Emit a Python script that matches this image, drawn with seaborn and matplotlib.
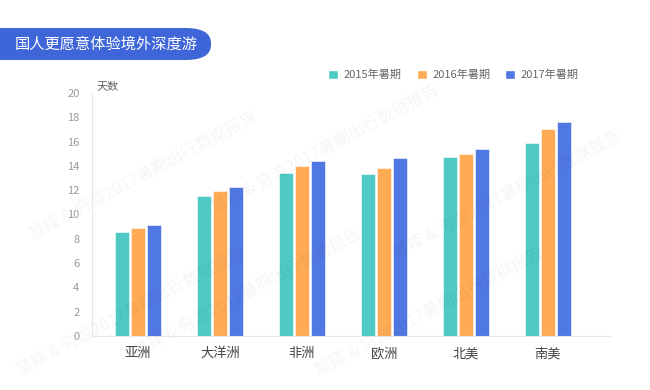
import pandas as pd
import matplotlib.pyplot as plt
import seaborn as sns
from matplotlib.patches import FancyBboxPatch, Patch

regions = ["亚洲", "大洋洲", "非洲", "欧洲", "北美", "南美"]
y2015 = [8.6, 11.5, 13.45, 13.3, 14.7, 15.9]
y2016 = [8.9, 11.95, 14.0, 13.85, 15.0, 17.0]
y2017 = [9.1, 12.3, 14.4, 14.65, 15.4, 17.6]
series = ["2015年暑期", "2016年暑期", "2017年暑期"]
colors = ["#4ec9c4", "#ffab55", "#5078e3"]

df = pd.DataFrame({"地区": regions * 3,
                   "天数": y2015 + y2016 + y2017,
                   "年份": [s for s in series for _ in regions]})

sns.set_style("white")
plt.rcParams['font.family'] = ['Noto Sans CJK SC', 'DejaVu Sans']

fig = plt.figure(figsize=(6.5, 3.9), dpi=100)
ax = fig.add_axes([92 / 650, 1 - 336 / 390, 518 / 650, 243 / 390])

sns.barplot(data=df, x="地区", y="天数", hue="年份", palette=colors,
            width=0.575, gap=0.1, ax=ax, legend=False, saturation=1,
            edgecolor="white", linewidth=0.4)

ax.set_xlim(-0.56, 5.756)
ax.set_ylim(0, 20)
ax.set_yticks(range(0, 21, 2))
ax.tick_params(axis="y", labelsize=8, colors="#999999", length=0, pad=9)
ax.tick_params(axis="x", labelsize=9.5, colors="#444444", length=0, pad=8)
ax.set_xlabel("")
ax.set_ylabel("")
for s in ["top", "right"]:
    ax.spines[s].set_visible(False)
for s in ["left", "bottom"]:
    ax.spines[s].set_color("#e8e8e8")
    ax.spines[s].set_linewidth(0.8)

fig.text(97 / 650, 1 - 86 / 390, "天数", fontsize=8, color="#666666", va="center")

# title banner
banner = FancyBboxPatch((-0.05, 1 - 60 / 390), 211 / 650 + 0.05, 32 / 390,
                        boxstyle="round,pad=0,rounding_size=0.04",
                        transform=fig.transFigure, facecolor="#3e66d8",
                        edgecolor="none", mutation_aspect=390 / 650 * 1.6)
fig.patches.append(banner)
fig.text(15 / 650, 1 - 44 / 390, "国人更愿意体验境外深度游", fontsize=11,
         color="white", va="center")

handles = [Patch(facecolor=c, label=s) for c, s in zip(colors, series)]
fig.legend(handles=handles, loc="center left", ncol=3, frameon=False,
           bbox_to_anchor=(318 / 650, 1 - 75 / 390), fontsize=8,
           labelcolor="#666666", handlelength=0.9, handleheight=0.9,
           handletextpad=0.5, columnspacing=1.35)

# watermark
wm = "慧择 & 穷游2017暑期出行数据报告"
for x, y in [(0.22, 0.55), (0.5, 0.62), (0.78, 0.5), (0.38, 0.25),
             (0.66, 0.2), (0.2, 0.2)]:
    fig.text(x, y, wm, fontsize=12, color="#000000", alpha=0.045,
             rotation=28, va="center", ha="center")

fig.savefig("out.png", dpi=100)
